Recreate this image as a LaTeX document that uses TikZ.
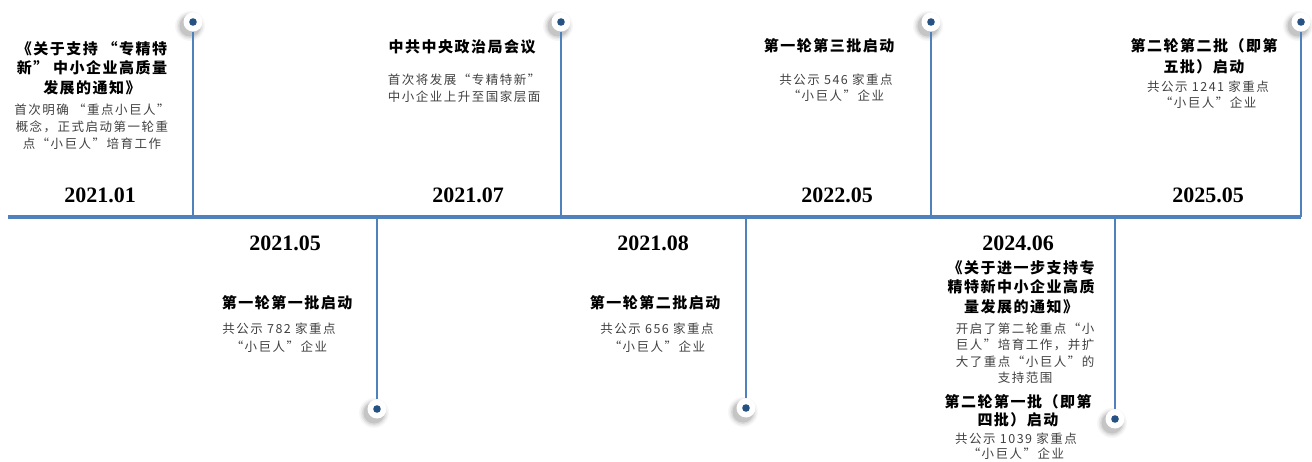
\documentclass[tikz,border=0pt]{standalone}
\usepackage{fontspec}
\setmainfont{Liberation Serif}
\newfontfamily\cjk[LetterSpace=10]{Noto Sans CJK SC}
\newfontfamily\cjkd[LetterSpace=12]{Noto Sans CJK SC}

\definecolor{axisblue}{RGB}{79,129,189}
\definecolor{dotblue}{RGB}{37,82,130}
\definecolor{descgray}{RGB}{64,64,64}

\tikzset{
	knob/.style={circle, fill=white, minimum size=19pt, inner sep=0pt},
	stemline/.style={axisblue, line width=2.6pt},
	year/.style={inner sep=0pt, font=\bfseries\fontsize{22}{24}\selectfont},
	headline/.style={align=center, inner sep=0pt, font=\cjk\bfseries\fontsize{15}{#1}\selectfont},
	headline/.default=19.5,
	descr/.style={align=center, inner sep=0pt, text=descgray, font=\cjkd\fontsize{12.5}{#1}\selectfont},
	descr/.default=17,
}

\begin{document}
\begin{tikzpicture}[x=1pt, y=-1pt]
		\useasboundingbox (0,0) rectangle (1312,462);

		\coordinate (axL) at (8,217);
		\coordinate (axR) at (1301,217);

		\coordinate (c2101) at (193,22);
		\coordinate (c2107) at (561,22);
		\coordinate (c2205) at (931,22);
		\coordinate (c2505) at (1301,22);
		\coordinate (c2105) at (377,409);
		\coordinate (c2108) at (746,408);
		\coordinate (c2406) at (1115,419);
		\foreach \c in {c2101,c2107,c2205,c2505,c2105,c2108,c2406}
			\foreach \r/\o in {15/.03, 13.5/.05, 12/.07, 10.5/.09}
				\fill[black, opacity=\o] ([shift={(-3,4)}]\c) circle (\r pt);

		\node[knob] (k2101) at (c2101) {};
		\node[knob] (k2107) at (c2107) {};
		\node[knob] (k2205) at (c2205) {};
		\node[knob] (k2505) at (c2505) {};
		\node[knob] (k2105) at (c2105) {};
		\node[knob] (k2108) at (c2108) {};
		\node[knob] (k2406) at (c2406) {};
		\foreach \k in {k2101,k2107,k2205,k2505,k2105,k2108,k2406}
			\fill[dotblue] (\k) circle (3.8pt);

		\foreach \k in {k2101,k2107,k2205,k2505,k2105,k2108,k2406}
			\draw[stemline] (\k) -- (\k |- axL);
		\draw[axisblue, line width=3.6pt] (axL) -- (axR);

		\node[headline] (h2101) at (92,68) {《关于支持 “专精特\\新” 中小企业高质量\\发展的通知》};
		\node[descr] (d2101) at (92,127) {首次明确 “重点小巨人”\\概念，正式启动第一轮重\\点“小巨人”培育工作};
		\node[year] (y2101) at (100,195) {2021.01};

		\node[headline] (h2107) at (462,47) {中共中央政治局会议};
		\node[descr] (d2107) at (464,88) {首次将发展“专精特新”\\中小企业上升至国家层面};
		\node[year] (y2107) at (468,195) {2021.07};

		\node[headline] (h2205) at (829,46) {第一轮第三批启动};
		\node[descr=16] (d2205) at (836,88) {共公示 546 家重点\\“小巨人”企业};
		\node[year] (y2205) at (837,195) {2022.05};

		\node[headline=21] (h2505) at (1204,56) {第二轮第二批（即第\\五批）启动};
		\node[descr=16] (d2505) at (1208,95) {共公示 1241 家重点\\“小巨人”企业};
		\node[year] (y2505) at (1208,195) {2025.05};

		\node[year] (y2105) at (285,243) {2021.05};
		\node[headline] (h2105) at (287,303) {第一轮第一批启动};
		\node[descr=18] (d2105) at (279,338) {共公示 782 家重点\\“小巨人”企业};

		\node[year] (y2108) at (653,243) {2021.08};
		\node[headline] (h2108) at (655,303) {第一轮第二批启动};
		\node[descr=18] (d2108) at (657,338) {共公示 656 家重点\\“小巨人”企业};

		\node[year] (y2406) at (1018,243) {2024.06};
		\node[headline] (h2406) at (1021,287) {《关于进一步支持专\\精特新中小企业高质\\量发展的通知》};
		\node[descr=16.5] (d2406) at (1025,353) {开启了第二轮重点“小\\巨人”培育工作，并扩\\大了重点“小巨人”的\\支持范围};
		\node[headline=18] (h2406b) at (1018,411) {第二轮第一批（即第\\四批）启动};
		\node[descr=15] (d2406b) at (1016,446) {共公示 1039 家重点\\“小巨人”企业};
	\end{tikzpicture}
\end{document}
